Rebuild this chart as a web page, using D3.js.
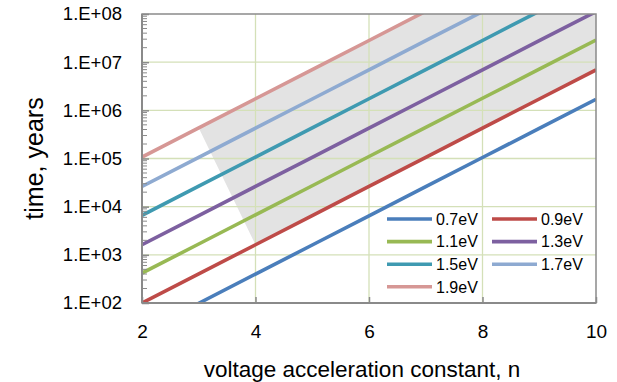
<!DOCTYPE html>
<html>
<head>
<meta charset="utf-8">
<script src="https://cdn.jsdelivr.net/npm/d3@7/dist/d3.min.js"></script>
<style>
  body { margin: 0; background: #fff; }
  svg { display: block; font-family: "Liberation Sans", Arial, sans-serif; }
  .axis .domain { display: none; }
</style>
</head>
<body>
<svg width="617" height="382"></svg>
<script>
// voltage acceleration constant n, one point per step
const nValues = [2, 3, 4, 5, 6, 7, 8, 9, 10];

// activation energies and the time (years) read for each n
const energies = ["0.7eV", "0.9eV", "1.1eV", "1.3eV", "1.5eV", "1.7eV", "1.9eV"];
const t07 = [24.5, 98.9, 398, 1600, 6460, 26000, 105000, 422000, 1700000];
const t09 = [100, 403, 1620, 6530, 26300, 106000, 427000, 1720000, 6920000];
const t11 = [417, 1680, 6760, 27200, 110000, 442000, 1780000, 7160000, 28800000];
const t13 = [1620, 6530, 26300, 106000, 427000, 1720000, 6920000, 27900000, 112000000];
const t15 = [6610, 26600, 107000, 432000, 1740000, 7000000, 28200000, 114000000, 457000000];
const t17 = [26300, 106000, 427000, 1720000, 6920000, 27900000, 112000000, 452000000, 1820000000];
const t19 = [107000, 432000, 1740000, 7000000, 28200000, 114000000, 457000000, 1840000000, 7410000000];
const colors = ["#4a7ebb", "#be4b48", "#98b954", "#7d60a0", "#3f9ab1", "#8eaad1", "#d69795"];

// axis ticks
const xTicks = [2, 4, 6, 8, 10];
const yTicks = [1e2, 1e3, 1e4, 1e5, 1e6, 1e7, 1e8];
const yTickLabels = ["1.E+02", "1.E+03", "1.E+04", "1.E+05", "1.E+06", "1.E+07", "1.E+08"];

const series = [t07, t09, t11, t13, t15, t17, t19].map((vals, i) => ({
  name: energies[i],
  color: colors[i],
  points: nValues.map((n, j) => [n, vals[j]])
}));

const font = "'Liberation Sans', Arial, sans-serif";

// plot area
const margin = { top: 14, right: 21, bottom: 79, left: 142 };
const width = 617 - margin.left - margin.right;
const height = 382 - margin.top - margin.bottom;

const x = d3.scaleLinear().domain([2, 10]).range([0, width]);
const y = d3.scaleLog().domain([1e2, 1e8]).range([height, 0]);

const svg = d3.select("svg");
const g = svg.append("g")
  .attr("transform", "translate(" + margin.left + "," + margin.top + ")");

g.append("clipPath").attr("id", "plot-clip")
  .append("rect").attr("width", width).attr("height", height);

const plot = g.append("g").attr("clip-path", "url(#plot-clip)");

// shaded band: above the 0.9eV line, right of the 1.9eV line, cut by a diagonal from n=3 to n=4
const upper = series[6].points.filter(p => p[0] >= 3);
const lower = series[1].points.filter(p => p[0] >= 4).reverse();
const band = upper.concat([[10, 1e8 * 100]], lower);
plot.append("path")
  .attr("d", d3.line().x(p => x(p[0])).y(p => y(p[1]))(band) + "Z")
  .attr("fill", "#e3e3e3");

// gridlines
plot.append("g")
  .selectAll("line")
  .data(yTicks.slice(1, -1))
  .join("line")
  .attr("x1", 0).attr("x2", width)
  .attr("y1", d => y(d)).attr("y2", d => y(d))
  .attr("stroke", "#d4e0b8").attr("stroke-width", 1.3);
plot.append("g")
  .selectAll("line")
  .data(xTicks.slice(1, -1))
  .join("line")
  .attr("y1", 0).attr("y2", height)
  .attr("x1", d => x(d)).attr("x2", d => x(d))
  .attr("stroke", "#d4e0b8").attr("stroke-width", 1.3);

// series lines
const line = d3.line().x(p => x(p[0])).y(p => y(p[1]));
plot.selectAll("path.series")
  .data(series)
  .join("path")
  .attr("class", "series")
  .attr("d", d => line(d.points))
  .attr("fill", "none")
  .attr("stroke", d => d.color)
  .attr("stroke-width", 3.6);

// frame
g.append("rect")
  .attr("width", width).attr("height", height)
  .attr("fill", "none").attr("stroke", "#8a8a8a").attr("stroke-width", 1.5);

// minor log ticks on the left axis
const minor = [];
yTicks.slice(0, -1).forEach(d => { for (let k = 2; k <= 9; k++) minor.push(d * k); });
g.append("g")
  .selectAll("line")
  .data(minor)
  .join("line")
  .attr("x1", 0).attr("x2", 5)
  .attr("y1", d => y(d)).attr("y2", d => y(d))
  .attr("stroke", "#8a8a8a").attr("stroke-width", 1);

// left axis
const yAxis = g.append("g").attr("class", "axis")
  .call(d3.axisLeft(y).tickValues(yTicks).tickFormat((d, i) => yTickLabels[i]).tickSizeInner(-7).tickSizeOuter(0).tickPadding(20))
  .attr("font-family", font).attr("font-size", 18.5);
yAxis.selectAll(".tick line").attr("stroke", "#8a8a8a").attr("stroke-width", 1.5);
yAxis.selectAll(".tick text").attr("x", -20).attr("fill", "#000");
g.append("line").attr("x1", 0).attr("x2", 0).attr("y1", 0).attr("y2", height)
  .attr("stroke", "#8a8a8a").attr("stroke-width", 2);

// bottom axis
const xAxis = g.append("g").attr("class", "axis")
  .attr("transform", "translate(0," + height + ")")
  .call(d3.axisBottom(x).tickValues(xTicks).tickFormat(d3.format("d")).tickSizeInner(-6).tickSizeOuter(0))
  .attr("font-family", font).attr("font-size", 19);
xAxis.selectAll(".tick line").attr("stroke", "#8a8a8a").attr("stroke-width", 1.5);
xAxis.selectAll(".tick text").attr("y", 22).attr("fill", "#000");
g.append("line").attr("x1", 0).attr("x2", width).attr("y1", height).attr("y2", height)
  .attr("stroke", "#8a8a8a").attr("stroke-width", 2);

// axis titles
svg.append("text")
  .attr("x", 362).attr("y", 377)
  .attr("text-anchor", "middle")
  .attr("font-size", 22.5)
  .text("voltage acceleration constant, n");
svg.append("text")
  .attr("transform", "translate(43," + (margin.top + height / 2) + ") rotate(-90)")
  .attr("text-anchor", "middle")
  .attr("font-size", 25)
  .text("time, years");

// legend, two columns
const legend = svg.append("g").selectAll("g")
  .data(series)
  .join("g")
  .attr("transform", (d, i) => "translate(" + (387 + (i % 2) * 105) + "," + (219 + Math.floor(i / 2) * 22.6) + ")");
legend.append("line")
  .attr("x1", 0).attr("x2", 45)
  .attr("stroke", d => d.color).attr("stroke-width", 3.6);
legend.append("text")
  .attr("x", 49).attr("dy", "0.36em")
  .attr("font-size", 16)
  .text(d => d.name);
</script>
</body>
</html>
